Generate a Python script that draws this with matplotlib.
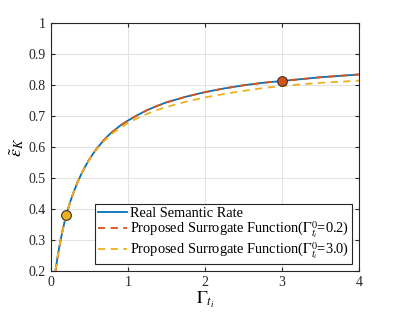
import matplotlib
matplotlib.use("Agg")
import matplotlib.pyplot as plt

plt.rcParams['font.family'] = ['Liberation Serif', 'DejaVu Serif']
plt.rcParams['mathtext.fontset'] = 'stix'

# values
gamma = [0.06, 0.08, 0.1, 0.125, 0.15, 0.175, 0.2, 0.25, 0.3, 0.35, 0.4, 0.45, 0.5, 0.55,
         0.6, 0.65, 0.7, 0.75, 0.8, 0.9, 1.0, 1.125, 1.25, 1.375, 1.5, 1.75, 2.0, 2.25,
         2.5, 2.75, 3.0, 3.5, 4.0]
real_rate = [0.200, 0.233, 0.263, 0.297, 0.328, 0.355, 0.380, 0.422, 0.457, 0.488, 0.515,
             0.539, 0.560, 0.579, 0.596, 0.611, 0.625, 0.638, 0.649, 0.669, 0.685, 0.703,
             0.719, 0.732, 0.744, 0.762, 0.777, 0.789, 0.799, 0.807, 0.813, 0.825, 0.834]
surr_02 = real_rate
surr_30 = [0.200, 0.233, 0.263, 0.297, 0.328, 0.355, 0.380, 0.422, 0.457, 0.488, 0.515,
           0.538, 0.559, 0.577, 0.594, 0.608, 0.621, 0.633, 0.644, 0.662, 0.677, 0.693,
           0.707, 0.719, 0.729, 0.746, 0.760, 0.771, 0.781, 0.790, 0.797, 0.807, 0.814]
pt_red = (3.0, 0.813)
pt_yellow = (0.2, 0.380)

xticks = [0, 1, 2, 3, 4]
yticks = [0.2, 0.3, 0.4, 0.5, 0.6, 0.7, 0.8, 0.9, 1.0]
yticklabels = ['0.2', '0.3', '0.4', '0.5', '0.6', '0.7', '0.8', '0.9', '1']

fig = plt.figure(figsize=(3.97, 3.13), dpi=100)
ax = fig.add_axes([0.128, 0.134, 0.776, 0.7925])

ax.plot(gamma, real_rate, color='#0072BD', lw=1.3, label='Real Semantic Rate')
ax.plot(gamma, surr_02, color='#D95319', lw=1.3, ls=(0, (4, 3)),
        label=r'Proposed Surrogate Function($\Gamma^0_{t_i}$=0.2)')
ax.plot(gamma, surr_30, color='#EDB120', lw=1.3, ls=(0, (4, 3)),
        label=r'Proposed Surrogate Function($\Gamma^0_{t_i}$=3.0)')
ax.plot(*pt_red, 'o', ms=7, mfc='#D95319', mec='#333333', mew=0.8)
ax.plot(*pt_yellow, 'o', ms=7, mfc='#EDB120', mec='#333333', mew=0.8)

ax.set_xlim(0, 4)
ax.set_ylim(0.2, 1)
ax.set_xticks(xticks)
ax.set_yticks(yticks)
ax.set_yticklabels(yticklabels)
ax.tick_params(direction='in', top=True, right=True, labelsize=10, length=3,
               colors='#262626')
ax.grid(True, color='#e3e3e3', lw=0.8)
ax.set_axisbelow(True)
for s in ax.spines.values():
    s.set_color('#262626')
    s.set_linewidth(0.8)

ax.set_xlabel(r'$\Gamma_{t_i}$', fontsize=13, labelpad=1)
ax.set_ylabel(r'$\tilde{\epsilon}_K$', fontsize=13, labelpad=2)

leg = ax.legend(loc='lower right', fontsize=10.4, fancybox=False, framealpha=1,
                edgecolor='#262626', handlelength=2.0, handletextpad=0.2,
                borderpad=0.2, labelspacing=0.0, borderaxespad=0.5)
leg.get_frame().set_linewidth(0.8)

fig.savefig('out.png', dpi=100)
